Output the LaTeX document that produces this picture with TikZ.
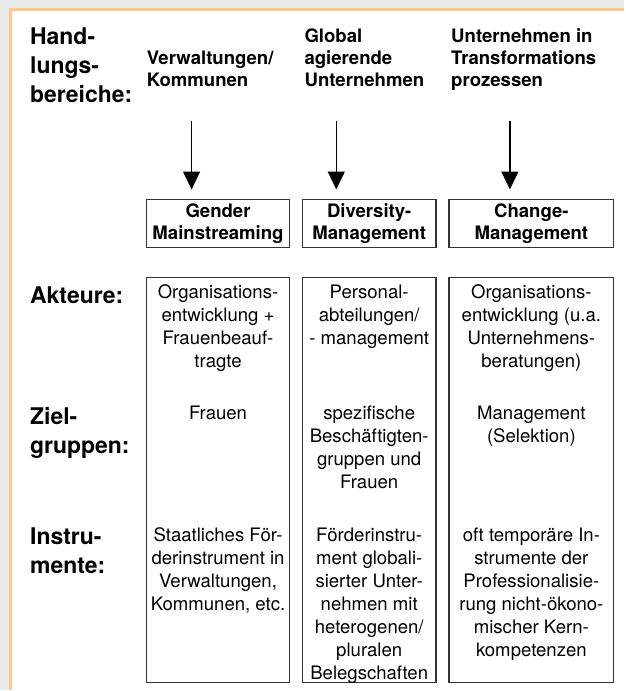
\documentclass[tikz,border=0pt]{standalone}
\usepackage{fontspec}
\setmainfont{TeX Gyre Heros}
\usetikzlibrary{arrows.meta}
\definecolor{framegray}{HTML}{E9EBEA}
\definecolor{frameorange}{HTML}{FCC88C}
\definecolor{boxline}{HTML}{333333}
\newcommand{\rowfont}{\bfseries\fontsize{23}{29}\selectfont}
\newcommand{\headfont}{\bfseries\fontsize{18.6}{22}\selectfont}
\newcommand{\cellfont}{\fontsize{18.6}{23}\selectfont}
\tikzset{
    % labels of the rows, on the left
    rowlabel/.style={anchor=north west, align=left, inner sep=0pt, font=\rowfont},
    fieldhead/.style={anchor=north west, align=left, inner sep=0pt, font=\headfont},
    headbox/.style={draw=boxline, line width=1.2pt, align=center, inner sep=0pt,
        minimum height=48pt, font=\headfont},
    colbox/.style={draw=boxline, line width=1.2pt, inner sep=0pt, minimum height=406pt},
    cell/.style={anchor=north, align=center, inner sep=0pt, font=\cellfont},
    flow/.style={line width=1.5pt, -{Triangle[width=17pt,length=18pt]}}
}
\begin{document}
\begin{tikzpicture}[x=1pt, y=-1pt]
    % frame
    \fill[framegray] (0,0) rectangle (625,691);
    \fill[white] (12,11) rectangle (625,691);
    \draw[frameorange, line width=3pt] (10.5,691) -- (10.5,9.5) -- (625,9.5);
    \useasboundingbox (0,0) rectangle (625,691);

    \node[rowlabel] (hb) at (30,28) {Hand-\\lungs-\\bereiche:};
    \node[rowlabel] (ak) at (30,287) {Akteure:};
    \node[rowlabel] (zg) at (30,408) {Ziel-\\gruppen:};
    \node[rowlabel] (in) at (30,529) {Instru-\\mente:};

    \node[fieldhead] (vk) at (147,51) {Verwaltungen/\\Kommunen};
    \node[fieldhead] (gu) at (305,29) {Global\\agierende\\Unternehmen};
    \node[fieldhead] (ut) at (452,29) {Unternehmen in\\Transformations\\prozessen};

    \node[headbox, minimum width=143pt] (gm) at (218.5,224) {Gender\\Mainstreaming};
    \node[headbox, minimum width=134pt] (dm) at (370,224) {Diversity-\\Management};
    \node[headbox, minimum width=165pt] (cm) at (532.5,224) {Change-\\Management};

    \foreach \x/\n in {192/gm, 337/dm, 511/cm} {
        \coordinate (\n-in) at (\x,121);
        \draw[flow, shorten >=9.5pt] (\n-in) -- (\n-in |- \n.north);
    }

    \foreach \x/\w/\n in {218.5/143/c1, 370/134/c2, 532.5/165/c3} {
        \node[colbox, minimum width=\w pt] (\n) at (\x,481) {};
    }

    \node[cell] (c1a) at (218.5,285) {Organisations-\\entwicklung +\\Frauenbeauf-\\tragte};
    \node[cell] (c1z) at (218.5,407) {Frauen};
    \node[cell] (c1i) at (218.5,529) {Staatliches För-\\derinstrument in\\Verwaltungen,\\Kommunen, etc.};

    \node[cell] (c2a) at (370,285) {Personal-\\abteilungen/\\- management};
    \node[cell] (c2z) at (370,407) {spezifische\\Beschäftigten-\\gruppen und\\Frauen};
    \node[cell] (c2i) at (370,529) {Förderinstru-\\ment globali-\\sierter Unter-\\nehmen mit\\heterogenen/\\pluralen\\Belegschaften};

    \node[cell] (c3a) at (532.5,285) {Organisations-\\entwicklung (u.a.\\Unternehmens-\\beratungen)};
    \node[cell] (c3z) at (532.5,407) {Management\\(Selektion)};
    \node[cell] (c3i) at (532.5,529) {oft temporäre In-\\strumente der\\Professionalisie-\\rung nicht-ökono-\\mischer Kern-\\kompetenzen};
\end{tikzpicture}
\end{document}
